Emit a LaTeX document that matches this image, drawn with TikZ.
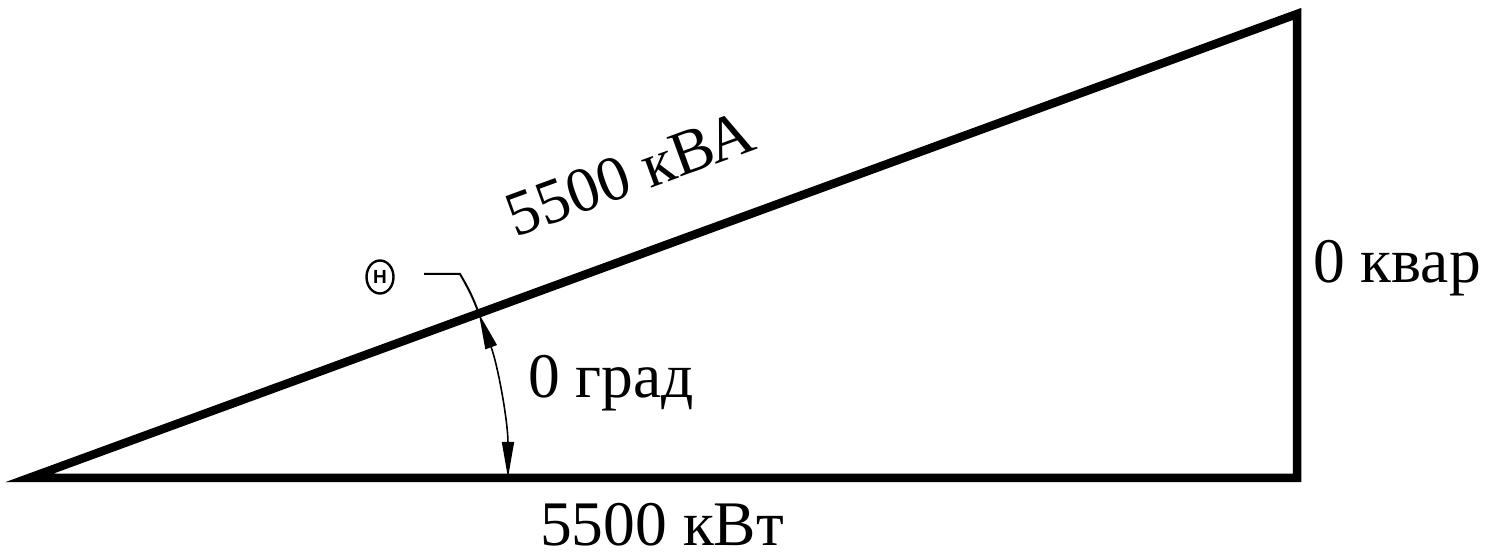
\documentclass[tikz,border=0pt]{standalone}
\usepackage{fontspec}
\setmainfont{Liberation Serif}
\setsansfont{Liberation Sans}
\usetikzlibrary{arrows.meta,calc,shapes.geometric}
\begin{document}
\begin{tikzpicture}[x=1pt,y=1pt,
  side/.style={line width=8.5pt,line join=miter},
  lbl/.style={inner sep=0pt,font=\fontsize{63.5}{70}\selectfont},
  anglearc/.style={line width=1.6pt,{Triangle[length=36pt,width=12pt]}-{Triangle[length=36pt,width=12pt]}},
  leader/.style={line width=2pt},
  thsym/.style={draw,ellipse,line width=2.4pt,inner sep=0pt,minimum width=27pt,minimum height=33pt,font=\sffamily\bfseries\fontsize{19}{19}\selectfont}]
\useasboundingbox (0,0) rectangle (1487,556);
\coordinate (A) at (29,78);
\coordinate (B) at (1297,78);
\coordinate (C) at (1297,542);
\draw[side] (A) -- (B) -- (C) -- cycle;
\path let \p1=($(C)-(A)$), \n1={atan2(\y1,\x1)} in
  coordinate (Pb) at ($(A)+(0:479)$)
  coordinate (Pt) at ($(A)+(\n1:479)$);
\draw[anglearc] (Pt) arc[start angle=20.09,end angle=0,radius=479];
\node[thsym] (th) at (380,279) {H};
\coordinate (L1) at (424,282);
\coordinate (L2) at (460,282);
\draw[leader] (L1) -- (L2) to[out=-60,in=110] (Pt);
\node[lbl,anchor=base,rotate=20.09] (kva) at (637,363) {5500 кВА};
\node[lbl,anchor=base west] (deg) at (528,158) {0 град};
\node[lbl,anchor=base west] (kw) at (540,10) {5500 кВт};
\node[lbl,anchor=base west] (kvar) at (1313,273) {0 квар};
\end{tikzpicture}
\end{document}
